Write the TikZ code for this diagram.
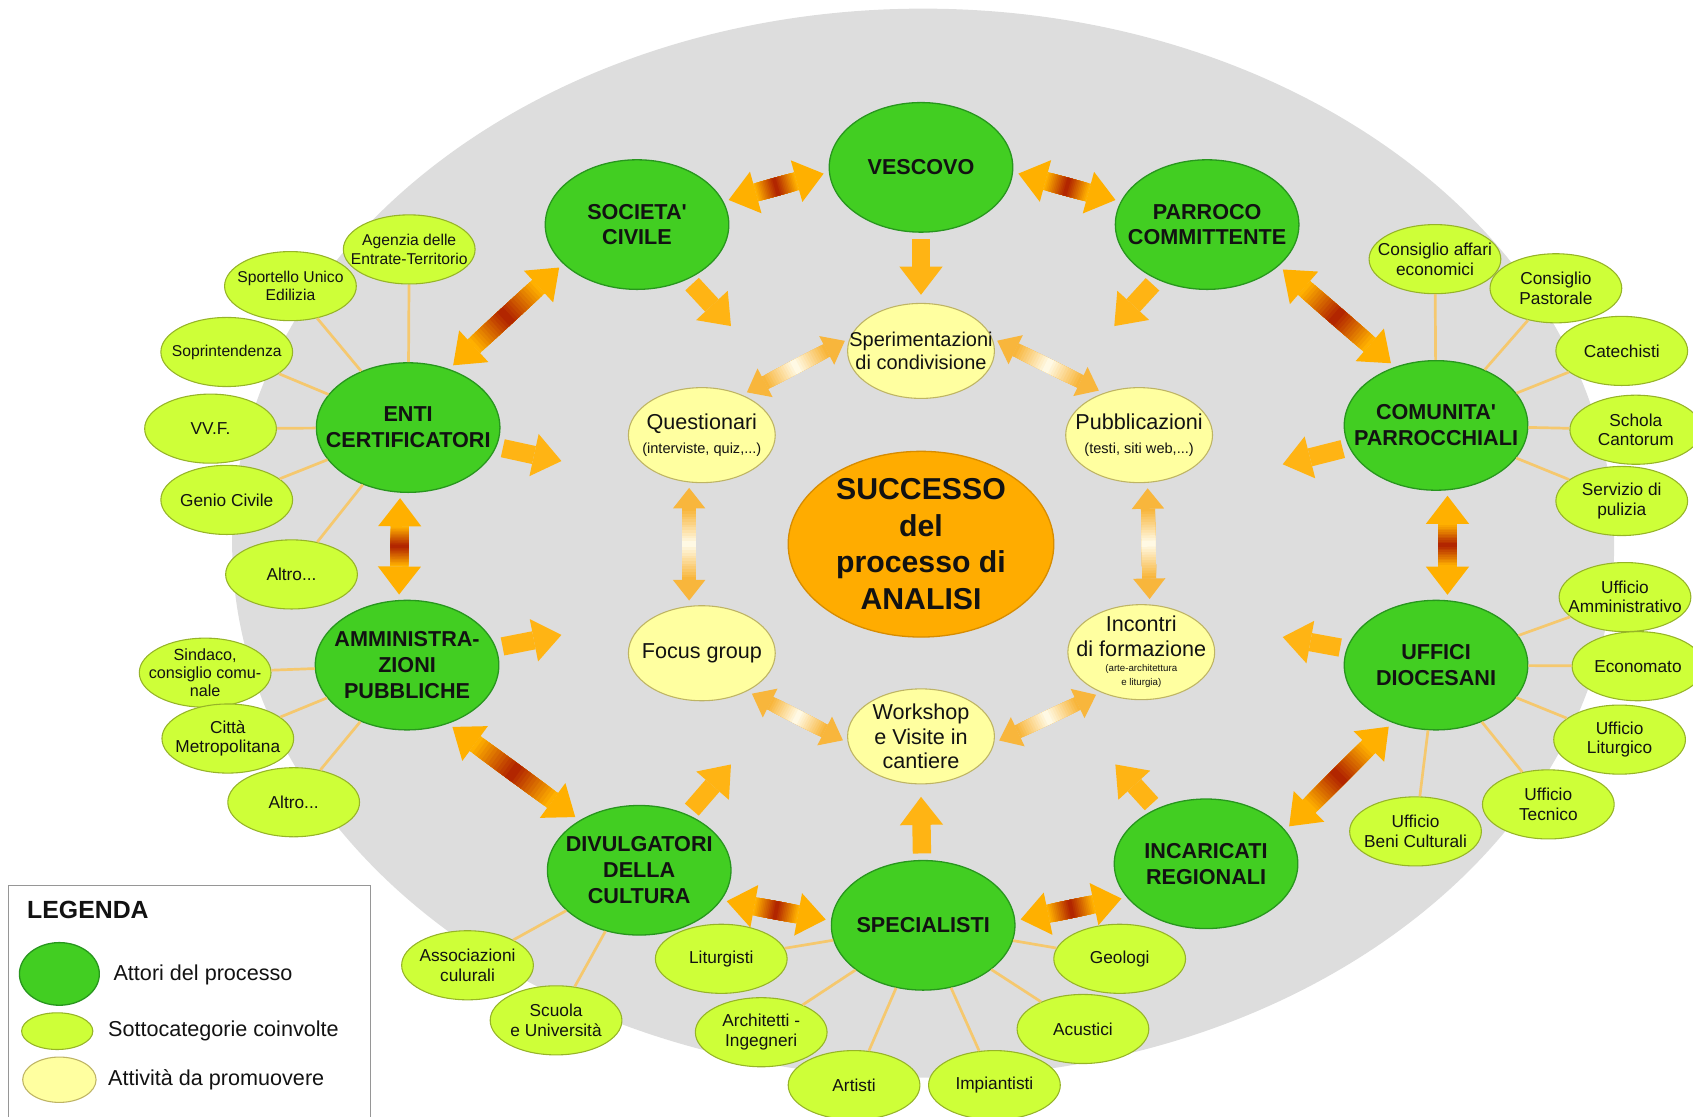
\documentclass[tikz,border=0pt]{standalone}
\usepackage{fontspec}
\setmainfont{Liberation Sans}
\usepackage{tikz}
\usetikzlibrary{calc}
\usetikzlibrary{arrows.meta}
\usetikzlibrary{shapes.geometric}

\definecolor{bggray}{RGB}{221,221,221}
\definecolor{actorfill}{RGB}{66,206,34}
\definecolor{actorline}{RGB}{40,150,30}
\definecolor{subfill}{RGB}{206,255,56}
\definecolor{subline}{RGB}{150,180,40}
\definecolor{actfill}{RGB}{255,255,160}
\definecolor{actline}{RGB}{190,180,100}
\definecolor{corefill}{RGB}{255,172,0}
\definecolor{coreline}{RGB}{215,140,0}
\definecolor{linkline}{RGB}{245,200,110}
\definecolor{inorange}{RGB}{255,180,20}
\definecolor{arrowend}{RGB}{255,176,0}
\definecolor{arrowmid}{RGB}{178,38,0}
\definecolor{softend}{RGB}{248,182,60}
\definecolor{softmid}{RGB}{255,249,228}
\definecolor{inktext}{RGB}{18,18,18}
\definecolor{legendline}{RGB}{150,150,150}

% fat double arrow: from, to, shaft, head width, head length, end colour, middle colour
\newcommand\fatlink[7]{%
  \path (#1) -- (#2) coordinate[pos=0] (fa) coordinate[pos=1] (fb);
  \coordinate (fs) at ($(fa)!5pt!(fb)$);
  \coordinate (fe) at ($(fb)!5pt!(fa)$);
  \coordinate (hs) at ($(fs)!#5!(fe)$);
  \coordinate (he) at ($(fe)!#5!(fs)$);
  \foreach \k in {0,...,12}{%
    \pgfmathsetmacro\cut{\k*0.038}%
    \pgfmathtruncatemacro\mix{\k*100/12}%
    \draw[line width=#3, #7!\mix!#6] ($(hs)!\cut!(he)$) -- ($(he)!\cut!(hs)$);
  }
  \draw[line width=#3, #6, -{Triangle[width=#4,length=#5,line width=0pt]}] ($(hs)!-1pt!(fs)$) -- (fs);
  \draw[line width=#3, #6, -{Triangle[width=#4,length=#5,line width=0pt]}] ($(he)!-1pt!(fe)$) -- (fe);
}
\newcommand\actorlink[2]{\fatlink{#1}{#2}{17pt}{40pt}{26pt}{arrowend}{arrowmid}}
\newcommand\softlink[2]{\fatlink{#1}{#2}{13pt}{30pt}{19pt}{softend}{softmid}}

\begin{document}
\begin{tikzpicture}[x=1pt, y=-1pt,
        actor/.style={ellipse, draw=actorline, line width=1.2pt, fill=actorfill, minimum width=170pt, minimum height=120pt, inner xsep=-80pt, inner ysep=-40pt, align=center, text=inktext, font=\bfseries\fontsize{20}{24}\selectfont},
        subcat/.style={ellipse, draw=subline, line width=1pt, fill=subfill, minimum width=122pt, minimum height=64pt, inner xsep=-60pt, inner ysep=-30pt, align=center, text=inktext, font=\fontsize{16}{18}\selectfont},
        activity/.style={ellipse, draw=actline, line width=1pt, fill=actfill, minimum width=136pt, minimum height=88pt, inner xsep=-70pt, inner ysep=-40pt, align=center, text=inktext, font=\fontsize{20}{23}\selectfont},
        core/.style={ellipse, draw=coreline, line width=1.2pt, fill=corefill, minimum width=246pt, minimum height=172pt, inner xsep=-90pt, inner ysep=-60pt, align=center, text=inktext, font=\bfseries\fontsize{28}{34}\selectfont},
        sublink/.style={draw=linkline, line width=2.5pt},
        inarrow/.style={draw=inorange, line width=17pt, -{Triangle[width=40pt,length=26pt,line width=0pt]}, shorten <=6pt},
        legendtext/.style={anchor=west, inner sep=0pt, text=inktext, font=\fontsize{20}{24}\selectfont}]
        \useasboundingbox (0,0) rectangle (1568,1034);

        % Grey background
        \fill[bggray] (855,503) ellipse (640pt and 495pt);

        % Legend frame
        \draw[legendline, line width=1pt, fill=white] (8,820) rectangle (343,1040);

        % Actors
        \node[actor] (soc) at (590,208) {SOCIETA\textquotesingle\\CIVILE};
        \node[actor] (vesc) at (853,155) {VESCOVO};
        \node[actor] (parr) at (1118,208) {PARROCO\\COMMITTENTE};
        \node[actor] (enti) at (378,396) {ENTI\\CERTIFICATORI};
        \node[actor] (amm) at (377,616) {AMMINISTRA-\\ZIONI\\PUBBLICHE};
        \node[actor] (comu) at (1330,394) {COMUNITA\textquotesingle\\PARROCCHIALI};
        \node[actor] (uff) at (1330,616) {UFFICI\\DIOCESANI};
        \node[actor] (div) at (592,806) {DIVULGATORI\\DELLA\\CULTURA};
        \node[actor] (spec) at (855,857) {SPECIALISTI};
        \node[actor] (inc) at (1117,800) {INCARICATI\\REGIONALI};

        % Centre and activities
        \node[core] (succ) at (853,504) {SUCCESSO\\del\\processo di\\ANALISI};
        \node[activity, font=\fontsize{18.5}{22}\selectfont] (sper) at (853,325) {Sperimentazioni\\di condivisione};
        \node[activity] (ques) at (650,403) {Questionari\\[-1pt]{\fontsize{13.5}{15}\selectfont (interviste, quiz,...)}};
        \node[activity] (pubb) at (1055,403) {Pubblicazioni\\[-1pt]{\fontsize{13.5}{15}\selectfont (testi, siti web,...)}};
        \node[activity] (focus) at (650,605) {Focus group};
        \node[activity] (inco) at (1057,604) {Incontri\\di formazione\\[-9pt]{\fontsize{9}{10}\selectfont (arte-architettura}\\[-10pt]{\fontsize{9}{10}\selectfont e liturgia)}};
        \node[activity] (work) at (853,682) {Workshop\\e Visite in\\cantiere};

        % Sub categories
        \node[subcat, font=\fontsize{14.5}{17}\selectfont] (agen) at (379,231) {Agenzia delle\\Entrate-Territorio};
        \node[subcat, font=\fontsize{14.5}{17}\selectfont] (spor) at (269,265) {Sportello Unico\\Edilizia};
        \node[subcat, font=\fontsize{14.5}{17}\selectfont] (sopr) at (210,326) {Soprintendenza};
        \node[subcat] (vvf) at (195,397) {VV.F.};
        \node[subcat] (genio) at (210,463) {Genio Civile};
        \node[subcat] (altroa) at (270,532) {Altro...};
        \node[subcat, font=\fontsize{15}{16.5}\selectfont] (sind) at (190,623) {Sindaco,\\consiglio comu-\\nale};
        \node[subcat] (citta) at (211,684) {Città\\Metropolitana};
        \node[subcat] (altrob) at (272,743) {Altro...};
        \node[subcat] (assoc) at (433,894) {Associazioni\\culurali};
        \node[subcat] (scuola) at (515,945) {Scuola\\e Università};
        \node[subcat] (litur) at (668,888) {Liturgisti};
        \node[subcat] (archi) at (705,956) {Architetti -\\Ingegneri};
        \node[subcat] (artisti) at (791,1005) {Artisti};
        \node[subcat] (impia) at (921,1005) {Impiantisti};
        \node[subcat] (acust) at (1003,953) {Acustici};
        \node[subcat] (geolo) at (1037,888) {Geologi};
        \node[subcat] (ecofin) at (1329,240) {Consiglio affari\\economici};
        \node[subcat] (cpast) at (1441,267) {Consiglio\\Pastorale};
        \node[subcat] (catec) at (1502,325) {Catechisti};
        \node[subcat] (schola) at (1515,398) {Schola\\Cantorum};
        \node[subcat] (pulizia) at (1502,464) {Servizio di\\pulizia};
        \node[subcat] (uamm) at (1505,553) {Ufficio\\Amministrativo};
        \node[subcat] (econ) at (1517,617) {Economato};
        \node[subcat] (ulit) at (1500,685) {Ufficio\\Liturgico};
        \node[subcat] (utec) at (1434,745) {Ufficio\\Tecnico};
        \node[subcat] (ubeni) at (1311,770) {Ufficio\\Beni Culturali};

        % Thin links to the sub categories
        \draw[sublink] (enti) -- (agen);
        \draw[sublink] (enti) -- (spor);
        \draw[sublink] (enti) -- (sopr);
        \draw[sublink] (enti) -- (vvf);
        \draw[sublink] (enti) -- (genio);
        \draw[sublink] (enti) -- (altroa);
        \draw[sublink] (amm) -- (sind);
        \draw[sublink] (amm) -- (citta);
        \draw[sublink] (amm) -- (altrob);
        \draw[sublink] (div) -- (assoc);
        \draw[sublink] (div) -- (scuola);
        \draw[sublink] (spec) -- (litur);
        \draw[sublink] (spec) -- (archi);
        \draw[sublink] (spec) -- (artisti);
        \draw[sublink] (spec) -- (impia);
        \draw[sublink] (spec) -- (acust);
        \draw[sublink] (spec) -- (geolo);
        \draw[sublink] (comu) -- (ecofin);
        \draw[sublink] (comu) -- (cpast);
        \draw[sublink] (comu) -- (catec);
        \draw[sublink] (comu) -- (schola);
        \draw[sublink] (comu) -- (pulizia);
        \draw[sublink] (uff) -- (uamm);
        \draw[sublink] (uff) -- (econ);
        \draw[sublink] (uff) -- (ulit);
        \draw[sublink] (uff) -- (utec);
        \draw[sublink] (uff) -- (ubeni);

        % Ring of actors
        \actorlink{soc.15}{vesc.183}
        \actorlink{vesc.-3}{parr.165}
        \actorlink{parr.-30}{comu.125}
        \actorlink{comu.-80}{uff.80}
        \actorlink{uff.-127}{inc.23}
        \actorlink{inc.203}{spec.3}
        \actorlink{spec.177}{div.-20}
        \actorlink{div.140}{amm.-55}
        \actorlink{amm.97}{enti.-97}
        \actorlink{enti.55}{soc.208}

        % Ring of activities
        \softlink{ques.45}{sper.170}
        \softlink{sper.10}{pubb.130}
        \softlink{pubb.-80}{inco.80}
        \softlink{inco.225}{work.-5}
        \softlink{work.185}{focus.-40}
        \softlink{focus.105}{ques.-105}

        % Arrows towards the centre
        \coordinate (soc-in) at (677,302);
        \coordinate (vesc-in) at (853,273);
        \coordinate (parr-in) at (1032,302);
        \coordinate (enti-in) at (520,427);
        \coordinate (amm-in) at (520,588);
        \coordinate (comu-in) at (1188,430);
        \coordinate (uff-in) at (1188,590);
        \coordinate (div-in) at (677,708);
        \coordinate (spec-in) at (853,738);
        \coordinate (inc-in) at (1033,708);
        \draw[inarrow] (soc) -- (soc-in);
        \draw[inarrow] (vesc) -- (vesc-in);
        \draw[inarrow] (parr) -- (parr-in);
        \draw[inarrow] (enti) -- (enti-in);
        \draw[inarrow] (amm) -- (amm-in);
        \draw[inarrow] (comu) -- (comu-in);
        \draw[inarrow] (uff) -- (uff-in);
        \draw[inarrow] (div) -- (div-in);
        \draw[inarrow] (spec) -- (spec-in);
        \draw[inarrow] (inc) -- (inc-in);

        % Legend
        \node[anchor=west, inner sep=0pt, text=inktext, font=\bfseries\fontsize{23}{27}\selectfont] (leg-title) at (25,843) {LEGENDA};
        \node[actor, minimum width=74pt, minimum height=58pt] (leg-actor) at (55,902) {};
        \node[legendtext] (leg-actor-txt) at (105,903) {Attori del processo};
        \node[subcat, minimum width=66pt, minimum height=34pt] (leg-sub) at (53,955) {};
        \node[legendtext] (leg-sub-txt) at (100,955) {Sottocategorie coinvolte};
        \node[activity, minimum width=68pt, minimum height=42pt] (leg-act) at (55,1000) {};
        \node[legendtext] (leg-act-txt) at (100,1000) {Attività da promuovere};
    \end{tikzpicture}
\end{document}
